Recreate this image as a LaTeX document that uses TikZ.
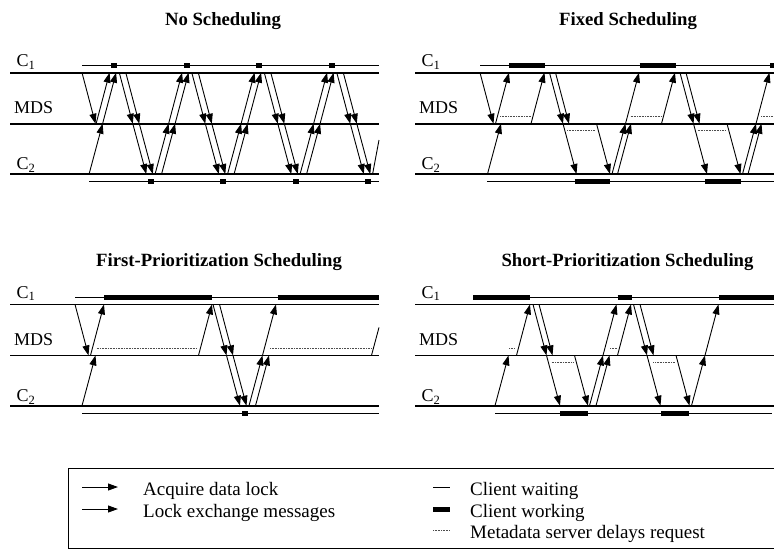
\documentclass[tikz,border=0pt]{standalone}
\usepackage{fontspec}
\setmainfont{Liberation Serif}
\usetikzlibrary{arrows.meta}

% lane heights (C1, MDS, C2), client state lines, delay marks
\def\yA{72.7}
\def\yM{123.7}
\def\yC{174}
\def\yT{65.7}
\def\yB{181.7}
\def\yDu{116.3}
\def\yDd{130.7}

\tikzset{
  lane/.style={line width=1.8pt},
  wait/.style={line width=0.9pt},
  work/.style={line width=5pt},
  msg/.style={line width=0.9pt,-{Triangle[length=10pt,width=7pt]}},
  delay/.style={line width=0.9pt,dash pattern=on 0.8pt off 0.8pt,black!70},
  lbl/.style={font=\fontsize{18}{21}\selectfont,anchor=base west,inner sep=0pt},
  ttl/.style={font=\fontsize{18.7}{22}\selectfont\bfseries,anchor=base,inner sep=0pt},
  leg/.style={font=\fontsize{19}{22}\selectfont,anchor=base west,inner sep=0pt},
}

% messages: C1->MDS, MDS->C2, C2->MDS, MDS->C1 (argument = start x)
\newcommand\DnAM[1]{\draw[msg] ({#1},\yA) -- ({#1+13.5},\yM);}
\newcommand\DnMC[1]{\draw[msg] ({#1},\yM) -- ({#1+13.5},\yC);}
\newcommand\UpCM[1]{\draw[msg] ({#1},\yC) -- ({#1+13.5},\yM);}
\newcommand\UpMA[1]{\draw[msg] ({#1},\yM) -- ({#1+13.5},\yA);}
\newcommand\sqmark[2]{\fill ({#1-3},{#2-2.4}) rectangle ({#1+3},{#2+2.4});}
\newcommand\lanes[2]{%
  \draw[lane] (#1,\yA) -- (#2,\yA);
  \draw[lane] (#1,\yM) -- (#2,\yM);
  \draw[lane] (#1,\yC) -- (#2,\yC);}
\newcommand\lanelabels[2]{%
  \node[lbl] (#2c1) at ({#1+16.5},66.5) {C\textsubscript{1}};
  \node[lbl] (#2mds) at ({#1+14},113.3) {MDS};
  \node[lbl] (#2c2) at ({#1+16.5},169.7) {C\textsubscript{2}};}

\begin{document}
\begin{tikzpicture}[x=1pt,y=-1pt]
\useasboundingbox (0,0) rectangle (774,558);

% ---------------- No Scheduling ----------------
\node[ttl] (tnone) at (223,25.5) {No Scheduling};
\lanelabels{0}{a}
\lanes{10}{379}
\draw[wait] (82,\yT) -- (379,\yT);
\draw[wait] (89,\yB) -- (379,\yB);
\foreach \t in {114.3,186.8,259.3,331.8}{\sqmark{\t}{\yT}}
\foreach \b in {150.6,223.1,295.6,368.1}{\sqmark{\b}{\yB}}
\DnAM{82}
\foreach \b in {78.1,150.6,223.1,295.6}{
  \UpMA{\b+18} \UpCM{\b+11} \UpMA{\b+24.5}}
\foreach \b in {150.6,223.1,295.6}{\UpCM{\b+4.5}}
\foreach \t in {114.3,186.8,259.3,331.8}{
  \DnAM{\t+5} \DnMC{\t+18.5} \DnAM{\t+11.5} \DnMC{\t+25}}
\draw[wait] (372.6,\yC) -- (379,140);

% ---------------- Fixed Scheduling ----------------
\node[ttl] (tfixed) at (628,25.5) {Fixed Scheduling};
\lanelabels{405}{b}
\lanes{415}{780}
\draw[wait] (480,\yT) -- (780,\yT);
\draw[wait] (487,\yB) -- (780,\yB);
\foreach \t in {509,639.5}{
  \draw[work] (\t,\yT) -- ({\t+36},\yT);
  \draw[work] ({\t+65.5},\yB) -- ({\t+101},\yB);}
\draw[work] (770,\yT) -- (780,\yT);
\DnAM{480} \UpCM{487.5} \UpMA{495.5}
\foreach \t in {509,639.5}{
  \draw[delay] ({\t-9},\yDu) -- ({\t+21.5},\yDu);
  \UpMA{\t+22}
  \DnAM{\t+40.5} \DnMC{\t+54} \DnAM{\t+46.5}
  \draw[delay] ({\t+58},\yDd) -- ({\t+86.5},\yDd);
  \DnMC{\t+87.5}
  \UpCM{\t+103} \UpMA{\t+116.5} \UpCM{\t+108.5}}
\draw[delay] (761,\yDu) -- (780,\yDu);

% ---------------- First-Prioritization Scheduling ----------------
\node[ttl] (tfirst) at (219,266.5) {First-Prioritization Scheduling};
\begin{scope}[yshift=-231.7pt]
\lanelabels{0}{c}
\lanes{10}{379}
\draw[wait] (75,\yT) -- (379,\yT);
\draw[wait] (82.3,\yB) -- (379,\yB);
\draw[work] (104.3,\yT) -- (211.7,\yT);
\draw[work] (277.7,\yT) -- (379,\yT);
\sqmark{245}{\yB}
\DnAM{75} \UpCM{82} \UpMA{90.5}
\draw[delay] (96.7,\yDu) -- (196.7,\yDu);
\UpMA{198.5}
\DnAM{213} \DnMC{226.5} \DnAM{219.5} \DnMC{233}
\UpCM{249} \UpMA{262.5} \UpCM{255.5}
\draw[delay] (270,\yDu) -- (371.7,\yDu);
\draw[wait] (371.5,\yM) -- (379,{\yM-28});
\end{scope}

% ---------------- Short-Prioritization Scheduling ----------------
\node[ttl] (tshort) at (627.5,266.5) {Short-Prioritization Scheduling};
\begin{scope}[yshift=-231.7pt]
\lanelabels{405}{d}
\lanes{415}{780}
\draw[wait] (473.3,\yT) -- (780,\yT);
\draw[wait] (495,\yB) -- (771.7,\yB);
\draw[work] (473.3,\yT) -- (530,\yT);
\draw[work] (617.7,\yT) -- (631.7,\yT);
\draw[work] (719.3,\yT) -- (780,\yT);
\draw[work] (560,\yB) -- (588.3,\yB);
\draw[work] (661,\yB) -- (689.3,\yB);
\UpCM{495}
\draw[delay] (509,\yDu) -- (515,\yDu);
\UpMA{516.5}
\DnAM{533} \DnMC{546.5} \DnAM{539}
\draw[delay] (551.7,\yDd) -- (573.3,\yDd);
\DnMC{574.5}
\UpCM{589.5} \UpMA{603} \UpCM{596}
\draw[delay] (610,\yDu) -- (616.7,\yDu);
\UpMA{617.5}
\DnAM{633.5} \DnMC{647} \DnAM{640}
\draw[delay] (653.3,\yDd) -- (675,\yDd);
\DnMC{676}
\UpCM{691.5} \UpMA{705}
\end{scope}

% ---------------- Legend ----------------
\draw[line width=0.8pt] (68,468) rectangle (778,548);
\draw[msg] (82,487) -- (118,487);
\node[leg] (lacq) at (143,495.5) {Acquire data lock};
\draw[msg] (82,509) -- (118,509);
\node[leg] (lexc) at (143,517) {Lock exchange messages};
\draw[wait] (433,487) -- (450,487);
\node[leg] (lwait) at (470,495.5) {Client waiting};
\draw[work] (433,509) -- (450,509);
\node[leg] (lwork) at (470,517) {Client working};
\draw[delay] (433,530) -- (450,530);
\node[leg] (ldelay) at (470,538.5) {Metadata server delays request};
\end{tikzpicture}
\end{document}
